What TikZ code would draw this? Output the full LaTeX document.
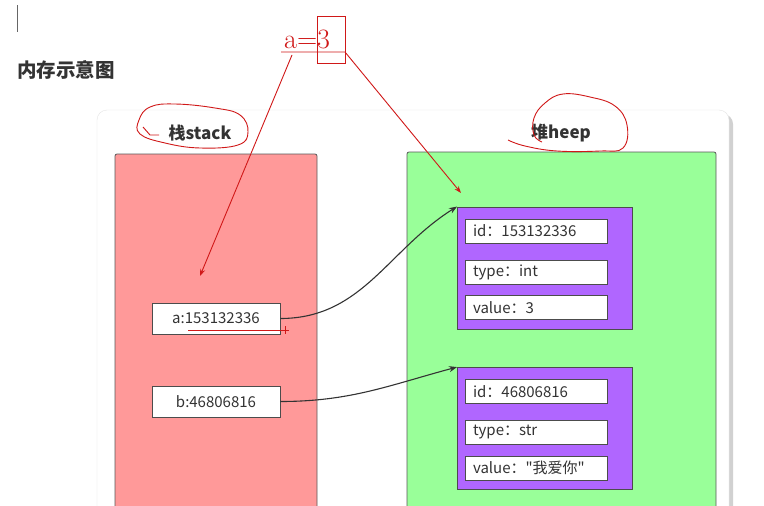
\documentclass[tikz,border=0pt]{standalone}
\usepackage{fontspec}
\newfontfamily\cjk{Noto Sans CJK SC}
\usetikzlibrary{arrows.meta,shadows}
\definecolor{stackred}{HTML}{FF9999}
\definecolor{heapgreen}{HTML}{99FF99}
\definecolor{objpurple}{HTML}{B066FF}
\definecolor{inkred}{HTML}{D01818}
\definecolor{txt}{HTML}{333333}
\tikzset{
  area/.style={draw=black!65, line width=0.8pt, rounded corners=2pt, inner sep=0pt},
  membox/.style={draw=black!70, line width=0.8pt, fill=white, minimum width=128pt, minimum height=31pt, inner sep=0pt, font=\cjk\fontsize{15}{18}\selectfont, text=txt},
  objbox/.style={draw=black!70, line width=0.9pt, fill=objpurple, minimum width=175pt, minimum height=122pt, inner sep=0pt},
  fieldbox/.style={draw=black!70, line width=0.8pt, fill=white, text width=126pt, inner xsep=8pt, inner ysep=0pt, minimum height=24pt, align=left, font=\cjk\fontsize{15}{18}\selectfont, text=txt},
  heading/.style={font=\cjk\bfseries\fontsize{17}{20}\selectfont, text=txt, inner sep=0pt},
  link/.style={draw=black!80, line width=1.1pt, -{Stealth[length=8pt,width=6pt]}},
  ink/.style={draw=inkred, line width=0.9pt},
  inkarrow/.style={ink, -{Stealth[length=7pt,width=5pt]}},
}
\begin{document}
\begin{tikzpicture}[x=1pt,y=-1pt]
\useasboundingbox (0,0) rectangle (764,506);
\clip (0,0) rectangle (764,506);
\fill[white] (0,0) rectangle (764,506);
% cursor
\draw[black!60, line width=1pt] (17,5) -- (17,32);
% title
\node[font=\cjk\bfseries\fontsize{19.5}{22}\selectfont, text=txt, anchor=west, inner sep=0pt] (title) at (17,70) {内存示意图};
% card
\fill[black!18, rounded corners=10pt] (100,114) rectangle (733,540);
\filldraw[draw=black!10, fill=white, rounded corners=10pt] (97,110) rectangle (729,540);
% areas
\filldraw[area, fill=stackred] (115,154) rectangle (317,530);
\filldraw[area, fill=heapgreen] (407,152) rectangle (716,530);
\node[heading] (stacklbl) at (200,133) {栈stack};
\node[heading] (heaplbl) at (561,133) {堆heep};
% stack variables
\node[membox] (a) at (216,318.5) {a:153132336};
\node[membox] (b) at (216,401.5) {b:46806816};
% heap objects
\node[objbox] (obj1) at (545,268) {};
\node[fieldbox] (id1) at (536,231) {id：153132336};
\node[fieldbox] (type1) at (536,272) {type：int};
\node[fieldbox] (val1) at (536,307.5) {value：3};
\node[objbox] (obj2) at (545,428.5) {};
\node[fieldbox] (id2) at (536,391.5) {id：46806816};
\node[fieldbox] (type2) at (536,432) {type：str};
\node[fieldbox] (val2) at (536,468) {value："我爱你"};
% links
\draw[link] (a.east) to[out=0,in=212] (obj1.north west);
\draw[link] (b.east) to[out=0,in=195] (obj2.north west);
% red hand annotations
\node[text=inkred, font=\fontsize{28}{30}\selectfont, inner sep=0pt, anchor=base west] (anno) at (284,48) {a=3};
\draw[ink] (317,16) rectangle (345,63);
\coordinate (ul) at (281,52);
\coordinate (stacktarget) at (200,276);
\coordinate (heaptarget) at (461,193);
\draw[inkarrow] (ul) -- (345,52) -- (heaptarget);
\draw[inkarrow] (292,55) -- (stacktarget);
% ellipse around stack
\draw[ink] plot[smooth cycle, tension=0.7] coordinates {(139,120) (150,107) (175,104) (215,108) (240,115) (248,132) (238,145) (200,148) (165,143) (140,134)};
\draw[ink] (143,127) -- (150,135) -- (159,135);
% loop around heap
\draw[ink] plot[smooth, tension=0.7] coordinates {(508,140) (525,146) (557,151) (600,151) (623,148) (627,125) (615,106) (590,97) (563,94) (545,103) (534,118) (534,135) (542,142)};
% underline under a
\draw[ink] (188,330) -- (285,330);
\draw[ink, line width=0.8pt] (285,326) -- (285,334) (281,330) -- (289,330);
\end{tikzpicture}
\end{document}
